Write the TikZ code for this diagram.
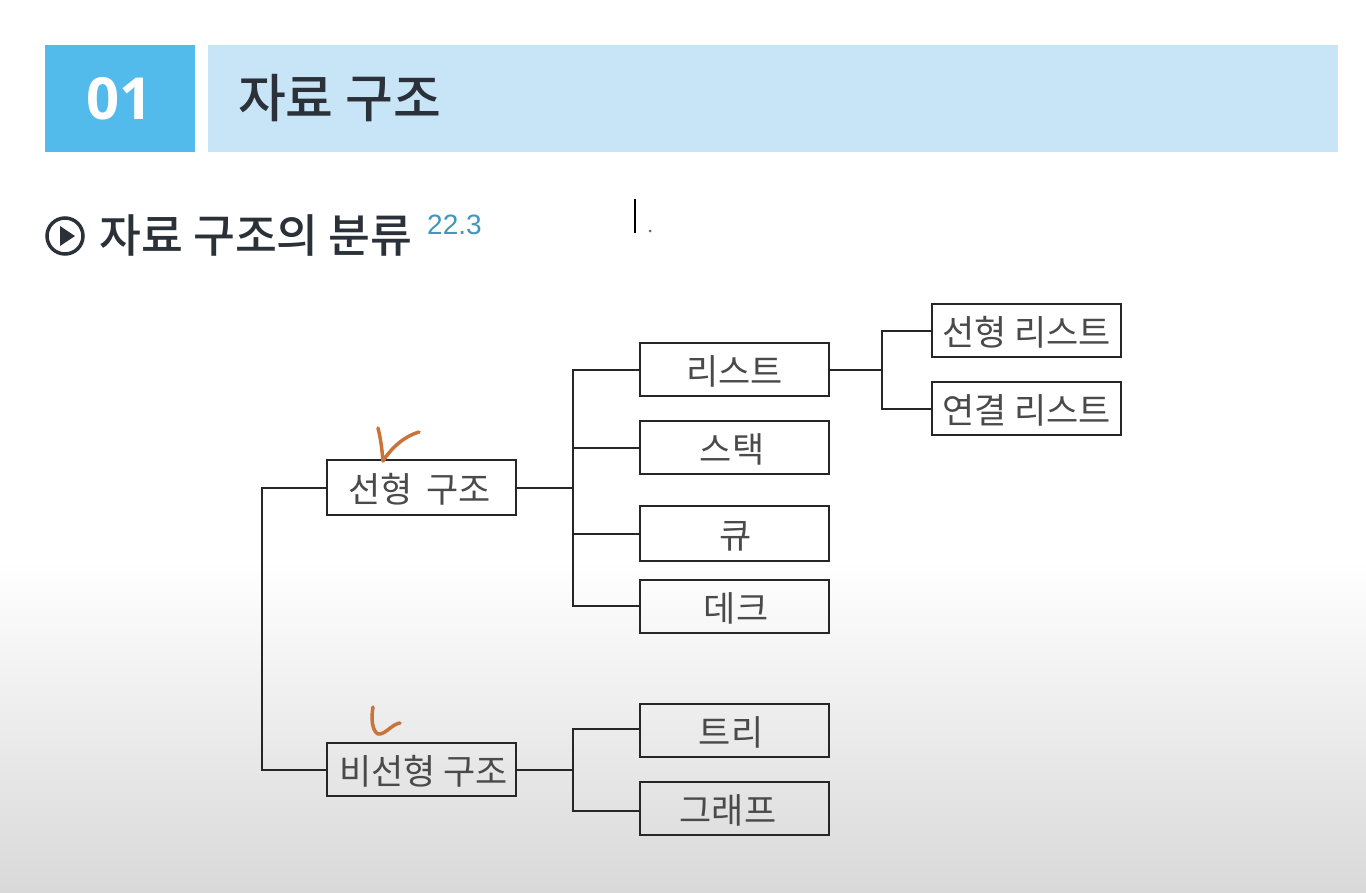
\documentclass[tikz,border=0pt]{standalone}
\usepackage{fontspec}
\setmainfont{Noto Sans CJK KR}
\newfontfamily\latinfont{Open Sans}
\newfontfamily\yearfont{Liberation Sans}
\newfontfamily\headfont{Noto Sans CJK KR Medium}
\usetikzlibrary{positioning}
\usetikzlibrary{arrows,calc}
\definecolor{headblue}{HTML}{53BAEC}
\definecolor{barblue}{HTML}{C8E4F7}
\definecolor{inkdark}{HTML}{2B3138}
\definecolor{inkbox}{HTML}{4A4A4A}
\definecolor{penorange}{HTML}{C9743A}
\begin{document}
\begin{tikzpicture} [
    x=1pt, y=-1pt,
    auto,
    block/.style = { rectangle, draw=black!85, line width=2pt, text=inkbox,
                     minimum width=189pt, minimum height=53pt, inner sep=0pt,
                     text height=30pt, text depth=0pt,
                     font=\fontsize{35pt}{38pt}\selectfont },
    line/.style  = { draw=black!85, line width=2pt },
    pen/.style   = { draw=penorange, line width=3.5pt, line cap=round, line join=round },
  ]
  \useasboundingbox (0,0) rectangle (1366,892);
  % background
  \fill[white] (0,0) rectangle (1366,560);
  \shade[top color=white, bottom color=black!15, draw=none] (0,560) rectangle (1366,892);
  % title bar
  \node (numbox) at (119.5,98.5) [fill=headblue, minimum width=150pt, minimum height=107pt, inner sep=0pt,
        text=white, font=\latinfont\bfseries\fontsize{58pt}{60pt}\selectfont] {01};
  \node (titlebar) at (773,98.5) [fill=barblue, minimum width=1130pt, minimum height=107pt] {};
  \node (title) [right=30pt of titlebar.west, anchor=west, text=inkdark, inner sep=0pt,
        font=\headfont\fontsize{52pt}{54pt}\selectfont] {자료 구조};
  % section heading
  \node (playmark) at (65,236) [draw=inkdark, circle, line width=3.5pt, minimum size=36pt, inner sep=0pt] {};
  \fill[inkdark] (60,226) -- (75,236) -- (60,246) -- cycle;
  \node (heading) at (99,235) [anchor=west, inner sep=0pt, text=inkdark,
        font=\headfont\fontsize{45.5pt}{48pt}\selectfont] {자료 구조의 분류};
  \node (year) at (427,225) [anchor=west, inner sep=0pt, text=headblue!80!black,
        font=\yearfont\fontsize{28pt}{30pt}\selectfont] {22.3};
  % cursor
  \draw[black, line width=2pt] (635,199) -- (635,233);
  \fill[black!60] (650,231) circle (1.5pt);

  \node (linear) at (421.5,487.5) [block, minimum height=55pt] {\hspace*{-4pt}선형 \,구조};
  \node (nonlinear) at (421.5,769.5) [block] {\hspace*{4pt}비선형 구조};
  \node (list) at (734.5,369.5) [block] {리스트};
  \node (stack) at (734.5,447.5) [block] {\hspace*{-5pt}스택};
  \node (queue) at (734.5,533.5) [block, minimum height=55pt] {\hspace*{3pt}큐};
  \node (deque) at (734.5,606.5) [block] {\hspace*{3pt}데크};
  \node (tree) at (734.5,730.5) [block] {\hspace*{-7pt}트리};
  \node (graph) at (734.5,808.5) [block] {\hspace*{-13pt}그래프};
  \node (linlist) at (1026.5,330.5) [block] {선형 리스트};
  \node (linklist) at (1026.5,408.5) [block] {연결 리스트};

  \coordinate (rootbar) at (262,628);
  \coordinate (linbar) at (573,487.5);
  \coordinate (nonbar) at (573,769.5);
  \coordinate (listbar) at (882,369.5);

  % connect nodes
  \begin{scope}[every path/.style=line]
  \path (linear.west) -| (rootbar);
  \path (nonlinear.west) -| (rootbar);
  \path (linear.east) -- (linbar);
  \path (linbar) |- (list.west);
  \path (linbar) |- (stack.west);
  \path (linbar) |- (queue.west);
  \path (linbar) |- ([yshift=1pt]deque.west);
  \path (nonlinear.east) -- (nonbar);
  \path (nonbar) |- ([yshift=1.5pt]tree.west);
  \path (nonbar) |- ([yshift=-2.5pt]graph.west);
  \path (list.east) -- (listbar);
  \path (listbar) |- (linlist.west);
  \path (listbar) |- (linklist.west);
  \end{scope}

  % pen marks
  \draw[pen] (378,428) .. controls (381,440) and (382,450) .. (383,461)
             .. controls (392,447) and (405,436) .. (419,432);
  \draw[pen] (373,707) .. controls (371,718) and (372,731) .. (378,734)
             .. controls (385,735) and (392,724) .. (400,723);
\end{tikzpicture}
\end{document}
